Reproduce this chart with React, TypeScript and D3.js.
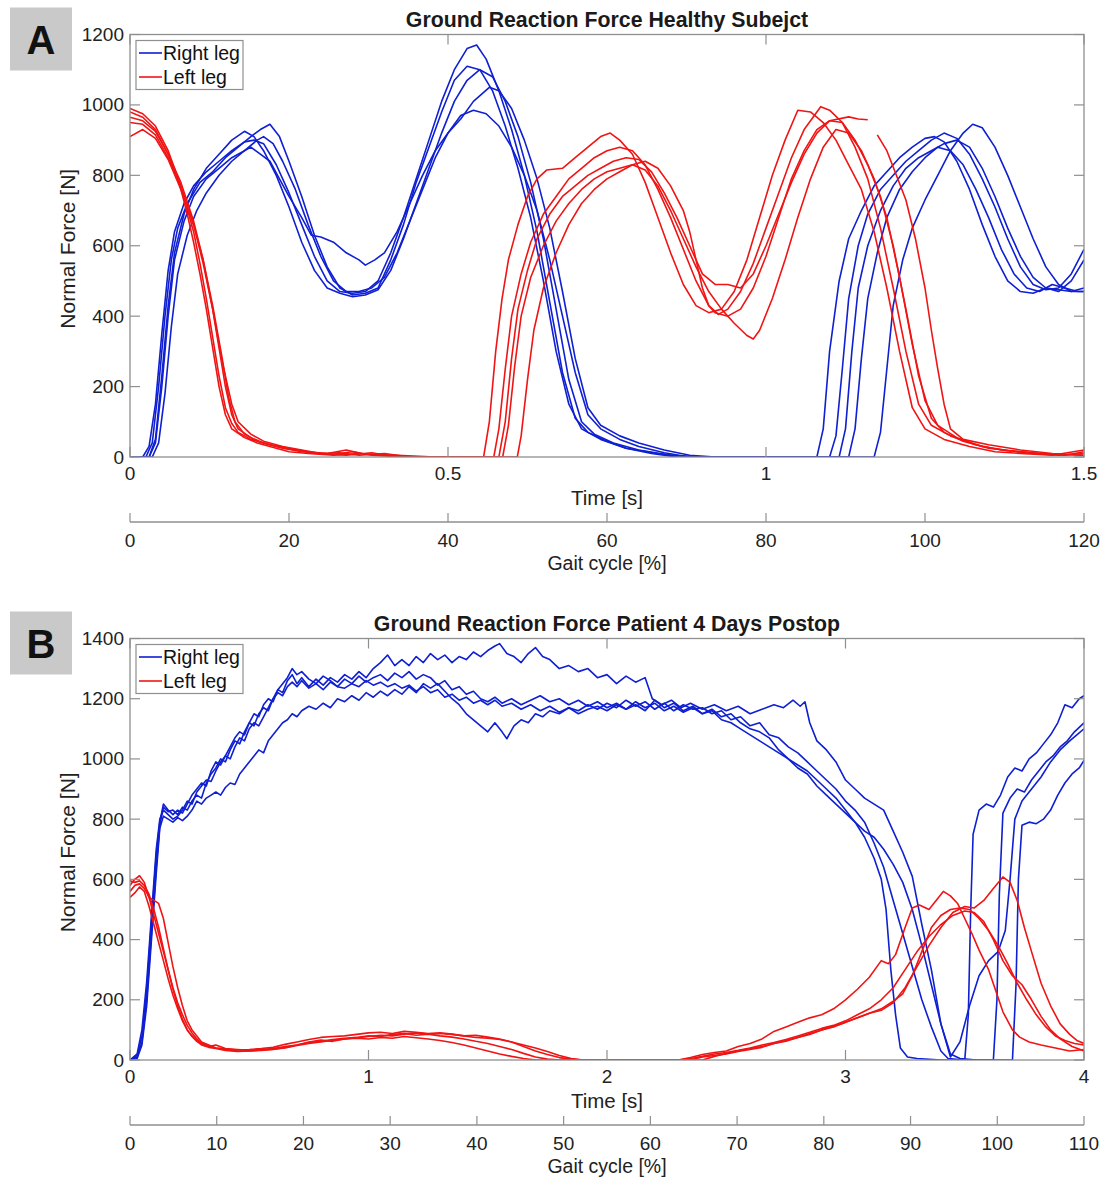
import React from "react";
import * as d3 from "d3";

type Pt = [number, number];

// ---------- Panel A: healthy subject (time [s], force [N]) ----------
const healthyRight: Pt[][] = [
  [[0,0],[0.02,0],[0.03,30],[0.04,150],[0.05,350],[0.06,530],[0.07,640],[0.085,720],[0.1,770],[0.12,810],[0.14,840],[0.16,870],[0.18,895],[0.195,900],[0.21,890],[0.23,830],[0.25,750],[0.27,660],[0.29,570],[0.31,500],[0.33,470],[0.35,465],[0.37,470],[0.39,500],[0.41,580],[0.43,680],[0.45,790],[0.47,900],[0.49,1010],[0.51,1100],[0.53,1160],[0.545,1170],[0.56,1130],[0.58,1040],[0.6,930],[0.62,800],[0.64,640],[0.66,440],[0.68,240],[0.7,110],[0.72,70],[0.75,45],[0.78,25],[0.82,10],[0.86,0],[1.1,0],[1.11,60],[1.12,250],[1.13,450],[1.145,600],[1.16,690],[1.18,760],[1.2,800],[1.22,840],[1.24,870],[1.26,900],[1.28,920],[1.3,905],[1.32,860],[1.34,790],[1.36,710],[1.38,620],[1.4,540],[1.42,490],[1.44,475],[1.46,480],[1.48,520],[1.5,590]],
  [[0,0],[0.025,0],[0.035,40],[0.045,200],[0.055,400],[0.065,560],[0.075,650],[0.09,720],[0.11,780],[0.13,810],[0.15,850],[0.17,880],[0.19,910],[0.205,930],[0.22,945],[0.235,910],[0.25,840],[0.27,740],[0.29,630],[0.31,540],[0.33,480],[0.35,460],[0.37,465],[0.39,480],[0.41,560],[0.43,660],[0.45,780],[0.47,880],[0.49,980],[0.51,1070],[0.53,1110],[0.55,1100],[0.57,1040],[0.59,940],[0.61,820],[0.63,680],[0.65,500],[0.67,300],[0.69,150],[0.71,80],[0.74,50],[0.78,25],[0.83,10],[0.88,0],[1.08,0],[1.09,80],[1.1,300],[1.115,500],[1.13,620],[1.15,700],[1.17,770],[1.19,810],[1.21,850],[1.23,880],[1.25,905],[1.265,910],[1.28,895],[1.3,840],[1.32,760],[1.34,660],[1.36,570],[1.38,500],[1.4,470],[1.42,465],[1.44,480],[1.46,475],[1.48,470],[1.5,480]],
  [[0,0],[0.03,0],[0.04,50],[0.05,230],[0.06,430],[0.07,580],[0.085,690],[0.1,760],[0.12,820],[0.14,860],[0.16,900],[0.18,925],[0.195,910],[0.21,870],[0.23,800],[0.25,710],[0.27,610],[0.29,530],[0.31,480],[0.33,465],[0.35,455],[0.37,460],[0.39,475],[0.41,530],[0.43,620],[0.45,720],[0.47,820],[0.49,920],[0.51,1010],[0.53,1070],[0.55,1100],[0.57,1080],[0.59,1010],[0.61,910],[0.63,780],[0.65,620],[0.67,420],[0.69,220],[0.71,100],[0.73,65],[0.76,40],[0.8,20],[0.85,5],[0.9,0],[1.115,0],[1.125,80],[1.135,300],[1.145,480],[1.16,600],[1.18,700],[1.2,770],[1.22,820],[1.24,850],[1.26,870],[1.28,890],[1.3,900],[1.32,880],[1.34,820],[1.36,740],[1.38,650],[1.4,570],[1.42,510],[1.44,480],[1.46,470],[1.48,500],[1.5,560]],
  [[0,0],[0.03,0],[0.04,40],[0.05,200],[0.06,400],[0.07,560],[0.085,670],[0.1,740],[0.12,790],[0.14,820],[0.16,850],[0.18,870],[0.19,880],[0.205,860],[0.22,840],[0.235,790],[0.25,740],[0.27,680],[0.285,630],[0.3,625],[0.32,610],[0.34,580],[0.36,560],[0.37,545],[0.385,560],[0.4,580],[0.42,640],[0.44,720],[0.46,800],[0.48,870],[0.5,920],[0.52,960],[0.54,1010],[0.565,1050],[0.58,1040],[0.6,990],[0.62,900],[0.64,790],[0.66,650],[0.68,470],[0.7,280],[0.72,140],[0.74,90],[0.77,60],[0.8,40],[0.84,20],[0.88,5],[0.92,0],[1.13,0],[1.14,80],[1.15,280],[1.16,450],[1.175,580],[1.19,680],[1.21,760],[1.23,810],[1.25,850],[1.27,880],[1.29,870],[1.31,830],[1.33,760],[1.35,680],[1.37,590],[1.39,520],[1.41,480],[1.43,470],[1.45,490],[1.47,480],[1.49,470],[1.5,470]],
  [[0,0],[0.035,0],[0.045,40],[0.055,180],[0.065,370],[0.075,520],[0.09,630],[0.105,700],[0.12,750],[0.14,800],[0.16,840],[0.18,870],[0.2,900],[0.21,910],[0.225,890],[0.24,840],[0.26,760],[0.28,660],[0.3,570],[0.32,500],[0.34,470],[0.36,470],[0.38,480],[0.4,510],[0.42,580],[0.44,670],[0.46,760],[0.48,850],[0.5,920],[0.52,970],[0.54,985],[0.56,975],[0.58,940],[0.6,880],[0.62,800],[0.64,700],[0.66,560],[0.68,400],[0.7,240],[0.72,120],[0.74,80],[0.77,50],[0.8,30],[0.84,12],[0.88,0],[1.17,0],[1.18,70],[1.19,250],[1.2,430],[1.215,560],[1.23,650],[1.25,730],[1.27,800],[1.29,870],[1.31,920],[1.325,945],[1.34,935],[1.36,880],[1.38,800],[1.4,710],[1.42,620],[1.44,540],[1.46,490],[1.48,470],[1.5,470]],
];

const healthyLeft: Pt[][] = [
  [[0,990],[0.02,975],[0.04,940],[0.06,870],[0.07,820],[0.08,760],[0.09,690],[0.1,610],[0.11,520],[0.12,420],[0.13,310],[0.14,200],[0.15,120],[0.16,80],[0.18,55],[0.2,40],[0.22,30],[0.25,15],[0.28,10],[0.32,5],[0.36,10],[0.4,5],[0.45,0],[0.556,0],[0.565,100],[0.575,300],[0.585,450],[0.595,560],[0.61,660],[0.625,740],[0.64,790],[0.655,815],[0.68,820],[0.7,850],[0.72,880],[0.74,910],[0.755,920],[0.77,900],[0.79,860],[0.81,780],[0.83,680],[0.85,580],[0.87,490],[0.89,430],[0.91,410],[0.93,420],[0.95,470],[0.97,560],[0.99,680],[1.01,800],[1.03,900],[1.05,985],[1.07,980],[1.09,950],[1.11,900],[1.13,830],[1.15,760],[1.17,640],[1.19,480],[1.21,300],[1.23,140],[1.25,80],[1.28,50],[1.32,30],[1.36,15],[1.4,10],[1.45,5],[1.5,20]],
  [[0,980],[0.02,965],[0.04,930],[0.06,860],[0.08,770],[0.1,640],[0.11,550],[0.12,450],[0.13,340],[0.14,230],[0.15,140],[0.16,95],[0.17,70],[0.19,50],[0.22,35],[0.25,25],[0.28,15],[0.31,10],[0.34,20],[0.37,8],[0.42,5],[0.48,0],[0.572,0],[0.58,80],[0.59,250],[0.6,400],[0.615,520],[0.63,610],[0.65,690],[0.67,740],[0.69,790],[0.71,820],[0.73,850],[0.75,870],[0.77,880],[0.79,870],[0.81,830],[0.83,760],[0.85,680],[0.87,590],[0.89,500],[0.91,430],[0.925,405],[0.94,420],[0.96,470],[0.98,550],[1.0,650],[1.02,750],[1.04,850],[1.06,930],[1.086,995],[1.1,985],[1.12,950],[1.14,880],[1.16,790],[1.18,650],[1.2,480],[1.22,300],[1.24,150],[1.26,90],[1.29,60],[1.33,35],[1.37,20],[1.42,10],[1.46,5],[1.5,10]],
  [[0,965],[0.02,955],[0.04,925],[0.06,860],[0.08,780],[0.1,670],[0.115,560],[0.13,420],[0.14,310],[0.15,200],[0.16,120],[0.17,80],[0.19,55],[0.21,40],[0.24,25],[0.27,15],[0.3,10],[0.33,12],[0.36,5],[0.4,10],[0.44,0],[0.58,0],[0.59,100],[0.6,280],[0.61,420],[0.625,530],[0.64,620],[0.66,690],[0.68,740],[0.7,770],[0.72,800],[0.74,820],[0.76,840],[0.78,850],[0.8,845],[0.82,810],[0.84,750],[0.86,680],[0.88,600],[0.9,520],[0.92,490],[0.94,490],[0.96,480],[0.98,520],[1.0,600],[1.02,690],[1.04,780],[1.06,860],[1.08,920],[1.1,955],[1.12,950],[1.14,900],[1.16,830],[1.18,740],[1.2,600],[1.22,420],[1.24,230],[1.26,110],[1.28,70],[1.31,45],[1.35,25],[1.4,15],[1.45,8],[1.5,5]],
  [[0,950],[0.02,945],[0.04,915],[0.06,850],[0.08,770],[0.1,660],[0.115,560],[0.13,430],[0.145,280],[0.155,170],[0.165,100],[0.18,65],[0.2,45],[0.23,30],[0.26,20],[0.29,12],[0.32,8],[0.35,15],[0.38,5],[0.43,0],[0.586,0],[0.595,90],[0.605,260],[0.615,400],[0.63,510],[0.65,600],[0.67,670],[0.69,720],[0.71,760],[0.73,790],[0.75,810],[0.77,820],[0.79,830],[0.81,815],[0.83,770],[0.85,700],[0.87,620],[0.89,540],[0.91,470],[0.93,420],[0.95,380],[0.97,345],[0.98,335],[0.99,360],[1.01,450],[1.03,560],[1.05,680],[1.07,790],[1.09,880],[1.11,930],[1.13,920],[1.15,870],[1.17,790],[1.19,680],[1.21,510],[1.23,320],[1.25,160],[1.27,90],[1.3,55],[1.34,30],[1.38,18],[1.43,10],[1.47,5],[1.5,15]],
  [[0,910],[0.02,930],[0.04,905],[0.06,845],[0.08,760],[0.1,660],[0.115,550],[0.13,420],[0.145,270],[0.16,150],[0.17,100],[0.19,65],[0.21,45],[0.24,30],[0.27,20],[0.3,10],[0.34,5],[0.38,12],[0.42,0],[0.609,0],[0.615,60],[0.625,220],[0.635,360],[0.65,480],[0.67,580],[0.69,660],[0.71,720],[0.73,760],[0.75,790],[0.77,810],[0.79,830],[0.81,840],[0.83,820],[0.85,770],[0.87,700],[0.88,640],[0.89,560],[0.9,480],[0.91,430],[0.92,410],[0.94,400],[0.96,420],[0.98,480],[1.0,570],[1.02,680],[1.04,790],[1.06,870],[1.08,930],[1.1,955],[1.13,966],[1.145,960],[1.16,958]],
  [[1.175,915],[1.19,870],[1.205,800],[1.22,730],[1.235,620],[1.25,480],[1.26,360],[1.27,250],[1.28,150],[1.29,80],[1.31,50],[1.35,35],[1.4,20],[1.45,10],[1.5,5]],
];

// ---------- Panel B: patient 4 days postop ----------
const patientRight: Pt[][] = [
  [[0,0],[0.03,10],[0.05,60],[0.07,200],[0.09,420],[0.11,640],[0.125,780],[0.14,840],[0.16,825],[0.18,830],[0.2,815],[0.22,840],[0.24,830],[0.26,860],[0.28,880],[0.3,870],[0.32,920],[0.34,950],[0.36,970],[0.38,1000],[0.4,990],[0.42,1030],[0.44,1060],[0.46,1050],[0.48,1090],[0.5,1120],[0.52,1110],[0.54,1150],[0.56,1170],[0.58,1160],[0.6,1200],[0.62,1230],[0.64,1220],[0.66,1260],[0.68,1280],[0.7,1250],[0.72,1270],[0.75,1240],[0.78,1265],[0.81,1245],[0.84,1270],[0.87,1255],[0.9,1280],[0.93,1265],[0.96,1290],[0.99,1270],[1.02,1300],[1.05,1320],[1.08,1345],[1.11,1310],[1.14,1330],[1.17,1310],[1.2,1340],[1.23,1320],[1.26,1350],[1.29,1330],[1.32,1345],[1.35,1320],[1.38,1340],[1.41,1330],[1.44,1355],[1.47,1340],[1.5,1360],[1.53,1375],[1.55,1383],[1.58,1350],[1.61,1340],[1.64,1320],[1.67,1350],[1.7,1370],[1.73,1340],[1.76,1330],[1.8,1300],[1.84,1310],[1.88,1290],[1.92,1300],[1.96,1270],[2.0,1280],[2.04,1250],[2.08,1275],[2.12,1255],[2.16,1270],[2.19,1200],[2.23,1180],[2.27,1195],[2.31,1170],[2.35,1185],[2.4,1165],[2.45,1180],[2.5,1160],[2.55,1175],[2.6,1150],[2.65,1165],[2.7,1180],[2.74,1170],[2.78,1195],[2.81,1175],[2.83,1190],[2.85,1120],[2.88,1060],[2.92,1030],[2.96,990],[3.0,930],[3.04,900],[3.08,870],[3.12,850],[3.16,830],[3.2,760],[3.24,690],[3.28,610],[3.32,450],[3.36,300],[3.4,120],[3.44,10],[3.48,60],[3.52,180],[3.56,280],[3.6,330],[3.64,360],[3.67,430],[3.69,600],[3.71,800],[3.74,860],[3.78,900],[3.82,940],[3.86,990],[3.9,1030],[3.94,1060],[3.97,1080],[4.0,1100]],
  [[0,0],[0.03,15],[0.05,80],[0.07,230],[0.09,460],[0.11,680],[0.125,790],[0.14,850],[0.16,830],[0.18,815],[0.2,830],[0.22,820],[0.24,850],[0.26,880],[0.28,900],[0.3,920],[0.32,910],[0.34,960],[0.36,990],[0.38,980],[0.4,1010],[0.42,1040],[0.44,1070],[0.46,1090],[0.48,1080],[0.5,1120],[0.52,1150],[0.54,1140],[0.56,1180],[0.58,1200],[0.6,1190],[0.62,1230],[0.64,1250],[0.66,1270],[0.68,1300],[0.7,1280],[0.72,1290],[0.75,1265],[0.78,1250],[0.81,1275],[0.84,1260],[0.87,1240],[0.9,1265],[0.93,1250],[0.96,1275],[0.99,1255],[1.02,1270],[1.05,1280],[1.08,1260],[1.11,1285],[1.14,1270],[1.17,1290],[1.2,1265],[1.23,1280],[1.26,1270],[1.29,1245],[1.32,1260],[1.35,1230],[1.38,1240],[1.41,1215],[1.44,1225],[1.47,1200],[1.5,1190],[1.53,1205],[1.56,1185],[1.6,1200],[1.64,1180],[1.68,1195],[1.72,1210],[1.76,1190],[1.8,1200],[1.84,1180],[1.88,1195],[1.92,1175],[1.96,1190],[2.0,1170],[2.04,1185],[2.08,1165],[2.12,1180],[2.16,1160],[2.2,1195],[2.24,1170],[2.28,1185],[2.32,1160],[2.36,1175],[2.4,1150],[2.44,1165],[2.48,1140],[2.52,1150],[2.56,1120],[2.6,1100],[2.64,1090],[2.68,1070],[2.72,1030],[2.76,1000],[2.8,970],[2.84,950],[2.88,910],[2.92,880],[2.96,850],[3.0,820],[3.04,790],[3.08,740],[3.12,670],[3.15,600],[3.17,500],[3.19,300],[3.21,150],[3.23,40],[3.26,10],[3.3,5],[3.4,0],[3.5,0],[3.515,150],[3.525,500],[3.535,750],[3.56,830],[3.59,850],[3.62,840],[3.65,880],[3.68,940],[3.71,970],[3.74,960],[3.77,1000],[3.8,1020],[3.83,1050],[3.86,1080],[3.89,1120],[3.92,1180],[3.95,1170],[3.98,1200],[4.0,1210]],
  [[0,0],[0.03,5],[0.05,50],[0.07,180],[0.09,400],[0.11,620],[0.125,770],[0.14,810],[0.16,800],[0.18,790],[0.2,805],[0.22,795],[0.24,810],[0.26,830],[0.28,860],[0.3,850],[0.32,870],[0.34,880],[0.36,890],[0.38,880],[0.4,905],[0.42,920],[0.44,915],[0.46,950],[0.48,970],[0.5,990],[0.52,1010],[0.54,1030],[0.56,1020],[0.58,1060],[0.6,1080],[0.62,1100],[0.64,1120],[0.66,1130],[0.68,1150],[0.7,1140],[0.72,1160],[0.75,1175],[0.78,1165],[0.81,1185],[0.84,1170],[0.87,1200],[0.9,1190],[0.93,1210],[0.96,1195],[0.99,1220],[1.02,1205],[1.05,1225],[1.08,1210],[1.11,1230],[1.14,1215],[1.17,1240],[1.2,1220],[1.23,1250],[1.26,1235],[1.29,1250],[1.32,1225],[1.35,1200],[1.38,1180],[1.41,1150],[1.44,1130],[1.47,1110],[1.5,1090],[1.53,1120],[1.56,1090],[1.58,1067],[1.61,1110],[1.64,1130],[1.67,1120],[1.7,1150],[1.73,1140],[1.76,1160],[1.8,1150],[1.84,1170],[1.88,1160],[1.92,1180],[1.96,1165],[2.0,1185],[2.04,1170],[2.08,1195],[2.12,1175],[2.16,1190],[2.2,1165],[2.24,1185],[2.28,1160],[2.32,1180],[2.36,1165],[2.4,1170],[2.44,1150],[2.48,1160],[2.52,1130],[2.56,1140],[2.6,1110],[2.64,1120],[2.68,1080],[2.72,1070],[2.76,1040],[2.8,1020],[2.84,990],[2.88,960],[2.92,930],[2.96,900],[3.0,860],[3.04,830],[3.08,790],[3.12,720],[3.16,640],[3.2,530],[3.24,420],[3.28,310],[3.32,200],[3.36,110],[3.4,30],[3.43,5],[3.5,0],[3.62,0],[3.635,200],[3.645,550],[3.66,820],[3.69,870],[3.72,900],[3.75,890],[3.78,930],[3.81,960],[3.84,990],[3.87,1010],[3.9,1040],[3.93,1060],[3.96,1090],[4.0,1120]],
  [[0,0],[0.03,20],[0.05,100],[0.07,260],[0.09,480],[0.11,700],[0.125,800],[0.14,830],[0.16,815],[0.18,800],[0.2,810],[0.22,830],[0.24,860],[0.26,850],[0.28,890],[0.3,910],[0.32,930],[0.34,925],[0.36,960],[0.38,990],[0.4,1010],[0.42,1000],[0.44,1040],[0.46,1070],[0.48,1060],[0.5,1100],[0.52,1120],[0.54,1110],[0.56,1140],[0.58,1170],[0.6,1200],[0.62,1220],[0.64,1210],[0.66,1240],[0.68,1255],[0.7,1240],[0.72,1260],[0.75,1235],[0.78,1250],[0.81,1230],[0.84,1255],[0.87,1240],[0.9,1235],[0.93,1250],[0.96,1240],[0.99,1260],[1.02,1245],[1.05,1255],[1.08,1240],[1.11,1250],[1.14,1235],[1.17,1245],[1.2,1225],[1.23,1240],[1.26,1220],[1.29,1230],[1.32,1205],[1.35,1215],[1.38,1195],[1.41,1205],[1.44,1185],[1.47,1195],[1.5,1180],[1.53,1195],[1.56,1175],[1.6,1185],[1.64,1165],[1.68,1180],[1.72,1160],[1.76,1175],[1.8,1155],[1.84,1170],[1.88,1150],[1.92,1165],[1.96,1175],[2.0,1160],[2.04,1180],[2.08,1165],[2.12,1190],[2.16,1170],[2.2,1185],[2.24,1160],[2.28,1175],[2.32,1155],[2.36,1170],[2.4,1150],[2.44,1160],[2.48,1130],[2.52,1120],[2.56,1100],[2.6,1080],[2.64,1060],[2.68,1040],[2.72,1020],[2.76,1000],[2.8,980],[2.84,960],[2.88,930],[2.92,900],[2.96,870],[3.0,830],[3.04,790],[3.08,760],[3.12,740],[3.16,700],[3.2,650],[3.24,590],[3.28,500],[3.32,380],[3.36,250],[3.4,120],[3.44,20],[3.48,5],[3.55,0],[3.7,0],[3.715,250],[3.725,600],[3.74,780],[3.77,790],[3.8,785],[3.83,800],[3.86,830],[3.89,880],[3.92,920],[3.95,950],[3.98,970],[4.0,995]],
];

const patientLeft: Pt[][] = [
  [[0,580],[0.02,600],[0.04,612],[0.06,590],[0.08,540],[0.1,480],[0.12,420],[0.14,360],[0.16,300],[0.18,240],[0.2,190],[0.22,150],[0.24,115],[0.26,90],[0.28,70],[0.3,55],[0.33,45],[0.36,50],[0.4,38],[0.45,35],[0.5,32],[0.55,35],[0.6,38],[0.65,45],[0.7,50],[0.75,58],[0.8,62],[0.85,68],[0.9,72],[0.95,75],[1.0,80],[1.05,78],[1.1,85],[1.15,88],[1.2,82],[1.25,86],[1.3,80],[1.35,76],[1.4,70],[1.45,62],[1.5,55],[1.55,45],[1.6,35],[1.65,22],[1.7,10],[1.75,3],[1.8,0],[2.3,0],[2.35,8],[2.4,18],[2.45,25],[2.5,30],[2.55,45],[2.6,55],[2.65,70],[2.7,95],[2.75,110],[2.8,125],[2.85,140],[2.9,150],[2.95,170],[3.0,200],[3.05,235],[3.1,275],[3.15,330],[3.18,320],[3.21,350],[3.25,440],[3.28,505],[3.31,515],[3.35,500],[3.38,530],[3.41,560],[3.44,545],[3.47,520],[3.5,470],[3.53,420],[3.56,365],[3.6,300],[3.63,230],[3.66,160],[3.7,100],[3.73,76],[3.77,60],[3.82,50],[3.88,40],[3.94,30],[4.0,35]],
  [[0,560],[0.02,580],[0.04,585],[0.06,570],[0.08,540],[0.1,530],[0.12,520],[0.14,470],[0.16,390],[0.18,310],[0.2,240],[0.22,180],[0.24,130],[0.26,100],[0.28,80],[0.3,60],[0.33,50],[0.36,40],[0.4,35],[0.45,30],[0.5,30],[0.55,33],[0.6,36],[0.65,40],[0.7,48],[0.75,55],[0.8,60],[0.85,66],[0.9,70],[0.95,74],[1.0,78],[1.05,82],[1.1,80],[1.15,86],[1.2,90],[1.25,86],[1.3,88],[1.35,85],[1.4,80],[1.45,75],[1.5,72],[1.55,68],[1.6,60],[1.65,50],[1.7,40],[1.75,28],[1.8,15],[1.85,5],[1.9,0],[2.35,0],[2.4,10],[2.45,15],[2.5,20],[2.55,28],[2.6,35],[2.65,42],[2.7,55],[2.75,62],[2.8,75],[2.85,85],[2.9,100],[2.95,110],[3.0,125],[3.05,140],[3.1,155],[3.15,170],[3.2,195],[3.24,220],[3.28,280],[3.32,360],[3.36,440],[3.4,480],[3.44,500],[3.48,505],[3.52,500],[3.56,470],[3.6,430],[3.64,380],[3.68,320],[3.72,255],[3.76,200],[3.8,150],[3.84,110],[3.88,80],[3.92,65],[3.96,55],[4.0,50]],
  [[0,540],[0.02,555],[0.04,575],[0.06,560],[0.08,510],[0.1,450],[0.12,390],[0.14,330],[0.16,270],[0.18,215],[0.2,170],[0.22,130],[0.24,100],[0.26,78],[0.28,62],[0.3,50],[0.33,42],[0.36,38],[0.4,32],[0.45,28],[0.5,30],[0.55,32],[0.6,35],[0.65,42],[0.7,50],[0.75,60],[0.8,66],[0.85,62],[0.9,70],[0.95,72],[1.0,70],[1.05,75],[1.1,72],[1.15,78],[1.2,74],[1.25,70],[1.3,65],[1.35,58],[1.4,50],[1.45,40],[1.5,30],[1.55,20],[1.6,12],[1.65,5],[1.7,0],[2.3,0],[2.35,5],[2.4,12],[2.45,20],[2.5,25],[2.55,32],[2.6,40],[2.65,50],[2.7,58],[2.75,68],[2.8,80],[2.85,92],[2.9,105],[2.95,115],[3.0,130],[3.05,150],[3.1,170],[3.15,200],[3.2,240],[3.25,300],[3.3,360],[3.35,410],[3.4,450],[3.45,480],[3.5,495],[3.54,490],[3.58,460],[3.62,400],[3.66,330],[3.7,280],[3.74,250],[3.78,200],[3.82,145],[3.86,100],[3.9,70],[3.95,45],[4.0,30]],
  [[0,595],[0.02,590],[0.04,595],[0.06,580],[0.08,550],[0.1,500],[0.12,440],[0.14,370],[0.16,300],[0.18,235],[0.2,180],[0.22,135],[0.24,100],[0.26,80],[0.28,65],[0.3,55],[0.33,48],[0.36,40],[0.4,36],[0.45,33],[0.5,35],[0.55,38],[0.6,42],[0.65,52],[0.7,60],[0.75,68],[0.8,75],[0.85,78],[0.9,80],[0.95,85],[1.0,90],[1.05,92],[1.1,88],[1.15,95],[1.2,92],[1.25,88],[1.3,90],[1.35,86],[1.4,80],[1.45,82],[1.5,76],[1.55,70],[1.6,60],[1.65,45],[1.7,30],[1.75,18],[1.8,8],[1.85,3],[1.9,0],[2.4,0],[2.45,12],[2.5,22],[2.55,30],[2.6,38],[2.65,45],[2.7,55],[2.75,65],[2.8,75],[2.85,88],[2.9,100],[2.95,112],[3.0,125],[3.05,140],[3.1,155],[3.15,165],[3.2,190],[3.25,240],[3.3,310],[3.35,380],[3.4,440],[3.45,490],[3.5,510],[3.54,505],[3.58,530],[3.62,570],[3.66,608],[3.69,590],[3.72,530],[3.75,440],[3.78,360],[3.82,255],[3.86,180],[3.9,120],[3.94,85],[3.97,65],[4.0,55]],
];

const healthyForceTicks = [0, 200, 400, 600, 800, 1000, 1200];
const healthyTimeTicks = [0, 0.5, 1, 1.5];
const healthyGaitTicks = [0, 20, 40, 60, 80, 100, 120];
const patientForceTicks = [0, 200, 400, 600, 800, 1000, 1200, 1400];
const patientTimeTicks = [0, 1, 2, 3, 4];
const patientGaitTicks = [0, 10, 20, 30, 40, 50, 60, 70, 80, 90, 100, 110];
const legendLabels = ["Right leg", "Left leg"];

const BLUE = "#0f1fd2";
const RED = "#f01414";
const AXIS = "#8f8f8f";
const TXT = "#222";
const FONT = "'Liberation Sans', Arial, Helvetica, sans-serif";

type PanelProps = {
  id: string;
  letter: string;
  title: string;
  top: number;
  bottom: number;
  yMax: number;
  tMax: number;
  gaitMax: number;
  forceTicks: number[];
  timeTicks: number[];
  gaitTicks: number[];
  right: Pt[][];
  left: Pt[][];
};

function Panel(p: PanelProps) {
  const x0 = 130, x1 = 1084;
  const x = d3.scaleLinear().domain([0, p.tMax]).range([x0, x1]);
  const y = d3.scaleLinear().domain([0, p.yMax]).range([p.bottom, p.top]);
  const g = d3.scaleLinear().domain([0, p.gaitMax]).range([x0, x1]);
  const line = d3.line<Pt>().x((d) => x(d[0])).y((d) => y(d[1]));
  const gaitY = p.bottom + 65;
  const tk = 10;
  const clipId = "clip-" + p.id;
  return (
    <g>
      <rect x={10} y={p.top - 27} width={62} height={63} fill="#c9c9c9" />
      <text x={41} y={p.top + 19} textAnchor="middle" fontSize={40} fontWeight="bold" fill="#111">{p.letter}</text>
      <text x={(x0 + x1) / 2} y={p.top - 8} textAnchor="middle" fontSize={21.3} fontWeight="bold" fill="#1a1a1a">{p.title}</text>
      <defs>
        <clipPath id={clipId}>
          <rect x={x0} y={p.top} width={x1 - x0} height={p.bottom - p.top} />
        </clipPath>
      </defs>
      <g clipPath={`url(#${clipId})`} fill="none" strokeWidth={1.6} strokeLinejoin="round">
        {p.right.map((tr, i) => <path key={"r" + i} d={line(tr) || ""} stroke={BLUE} />)}
        {p.left.map((tr, i) => <path key={"l" + i} d={line(tr) || ""} stroke={RED} />)}
      </g>
      <rect x={x0} y={p.top} width={x1 - x0} height={p.bottom - p.top} fill="none" stroke={AXIS} strokeWidth={1.3} />
      {p.forceTicks.map((v) => (
        <g key={"y" + v}>
          <line x1={x0} x2={x0 + tk} y1={y(v)} y2={y(v)} stroke={AXIS} strokeWidth={1.2} />
          <line x1={x1 - tk} x2={x1} y1={y(v)} y2={y(v)} stroke={AXIS} strokeWidth={1.2} />
          <text x={x0 - 6} y={y(v) + 6.5} textAnchor="end" fontSize={19} fill={TXT}>{v}</text>
        </g>
      ))}
      {p.timeTicks.map((v) => (
        <g key={"x" + v}>
          <line x1={x(v)} x2={x(v)} y1={p.bottom} y2={p.bottom - tk} stroke={AXIS} strokeWidth={1.2} />
          <line x1={x(v)} x2={x(v)} y1={p.top} y2={p.top + tk} stroke={AXIS} strokeWidth={1.2} />
          <text x={x(v)} y={p.bottom + 23} textAnchor="middle" fontSize={19} fill={TXT}>{String(v)}</text>
        </g>
      ))}
      <text x={(x0 + x1) / 2} y={p.bottom + 48} textAnchor="middle" fontSize={20.5} fill={TXT}>Time [s]</text>
      <text transform={`translate(${75},${(p.top + p.bottom) / 2 + 3}) rotate(-90)`} textAnchor="middle" fontSize={21} fill={TXT}>Normal Force [N]</text>
      <line x1={x0} x2={x1} y1={gaitY} y2={gaitY} stroke={AXIS} strokeWidth={1.3} />
      {p.gaitTicks.map((v) => (
        <g key={"g" + v}>
          <line x1={g(v)} x2={g(v)} y1={gaitY} y2={gaitY - 9} stroke={AXIS} strokeWidth={1.2} />
          <text x={g(v)} y={gaitY + 25} textAnchor="middle" fontSize={19} fill={TXT}>{v}</text>
        </g>
      ))}
      <text x={(x0 + x1) / 2} y={gaitY + 48} textAnchor="middle" fontSize={19.5} fill={TXT}>Gait cycle [%]</text>
      <g>
        <rect x={136} y={p.top + 6} width={107} height={49} fill="#fff" stroke={AXIS} strokeWidth={1.2} />
        {legendLabels.map((lab, i) => (
          <g key={lab}>
            <line x1={139} x2={162} y1={p.top + 18.5 + i * 24} y2={p.top + 18.5 + i * 24} stroke={i === 0 ? BLUE : RED} strokeWidth={1.6} />
            <text x={163} y={p.top + 25.5 + i * 24} fontSize={19.5} fill="#111">{lab}</text>
          </g>
        ))}
      </g>
    </g>
  );
}

export default function App() {
  return (
    <div style={{ position: "absolute", left: 0, top: 0 }}>
      <svg width={1104} height={1178} viewBox="0 0 1104 1178" style={{ display: "block", background: "#fff", fontFamily: FONT }}>
        <rect x={0} y={0} width={1104} height={1178} fill="#fff" />
        <Panel id="a" letter="A" title="Ground Reaction Force Healthy Subejct" top={34.5} bottom={457} yMax={1200} tMax={1.5} gaitMax={120}
          forceTicks={healthyForceTicks} timeTicks={healthyTimeTicks} gaitTicks={healthyGaitTicks} right={healthyRight} left={healthyLeft} />
        <Panel id="b" letter="B" title="Ground Reaction Force Patient 4 Days Postop" top={638.5} bottom={1060} yMax={1400} tMax={4} gaitMax={110}
          forceTicks={patientForceTicks} timeTicks={patientTimeTicks} gaitTicks={patientGaitTicks} right={patientRight} left={patientLeft} />
      </svg>
    </div>
  );
}
